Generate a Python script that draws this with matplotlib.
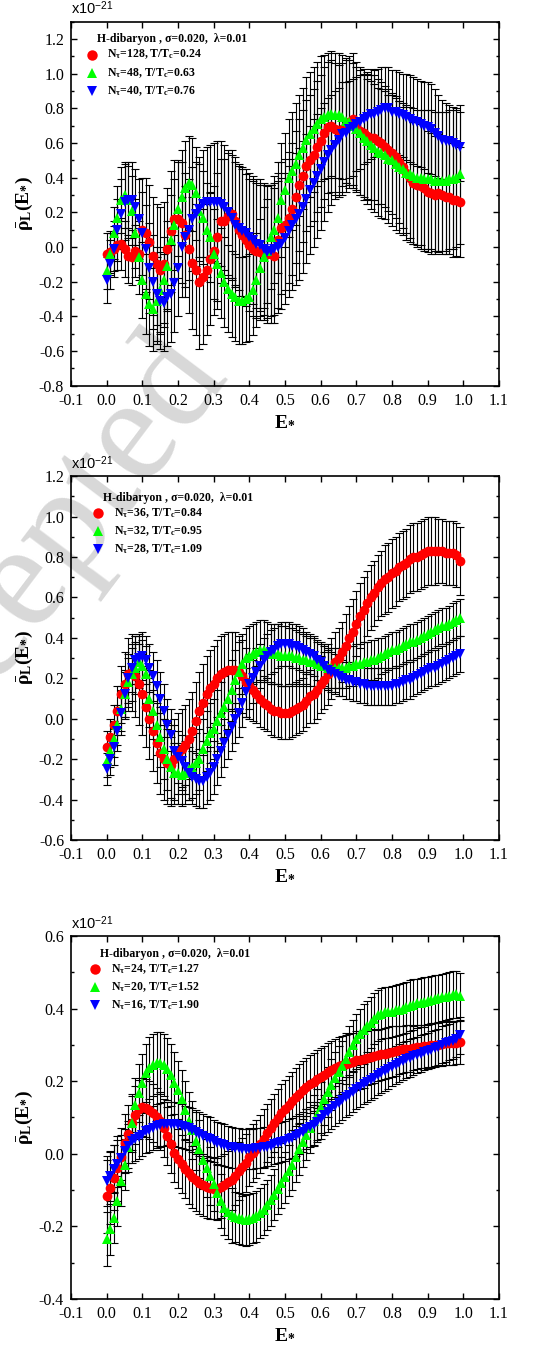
import numpy as np
import matplotlib
matplotlib.use("Agg")
import matplotlib.pyplot as plt
from matplotlib.ticker import MultipleLocator

plt.rcParams['font.family'] = ['Liberation Serif', 'DejaVu Serif']
plt.rcParams['mathtext.fontset'] = 'custom'
plt.rcParams['mathtext.rm'] = 'Liberation Serif:bold'
plt.rcParams['mathtext.it'] = 'Liberation Serif:italic:bold'
plt.rcParams['mathtext.bf'] = 'Liberation Serif:bold'
plt.rcParams['mathtext.sf'] = 'Liberation Sans'
plt.rcParams['axes.unicode_minus'] = False

# energy grid E* (same for every series)
E = np.round(np.linspace(0.0, 0.99, 100), 2)

# ---------------- panel 1 : Ntau = 128, 48, 40 ----------------
rho_128 = [-0.04, -0.03, -0.01, 0.01, 0.02, -0.01, -0.05, -0.06, -0.02, -0.04,
           0.10, 0.08, 0.03, -0.05, -0.10, -0.13, -0.10, -0.01, 0.09, 0.16,
           0.16, 0.14, 0.07, -0.01, -0.09, -0.13, -0.20, -0.17, -0.13, -0.07,
           -0.02, 0.06, 0.15, 0.15, 0.18, 0.19, 0.15, 0.10, 0.07, 0.04,
           0.01, -0.01, -0.02, -0.03, -0.03, -0.04, -0.04, -0.05, 0.04, 0.11,
           0.13, 0.17, 0.22, 0.29, 0.36, 0.41, 0.47, 0.50, 0.53, 0.58,
           0.61, 0.66, 0.69, 0.70, 0.68, 0.67, 0.68, 0.70, 0.72, 0.74,
           0.70, 0.67, 0.66, 0.64, 0.63, 0.63, 0.61, 0.60, 0.58, 0.56,
           0.54, 0.52, 0.49, 0.46, 0.43, 0.40, 0.37, 0.36, 0.35, 0.34,
           0.32, 0.31, 0.30, 0.31, 0.30, 0.29, 0.29, 0.27, 0.27, 0.26]
err_128 = [0.12, 0.12, 0.13, 0.14, 0.15, 0.16, 0.16, 0.16, 0.15, 0.15,
           0.30, 0.32, 0.33, 0.34, 0.35, 0.36, 0.36, 0.35, 0.35, 0.34,
           0.34, 0.35, 0.36, 0.37, 0.38, 0.38, 0.39, 0.39, 0.38, 0.38,
           0.37, 0.37, 0.36, 0.36, 0.36, 0.37, 0.37, 0.38, 0.38, 0.38,
           0.38, 0.39, 0.39, 0.39, 0.39, 0.40, 0.40, 0.39, 0.39, 0.38,
           0.38, 0.38, 0.38, 0.38, 0.38, 0.38, 0.38, 0.38, 0.38, 0.38,
           0.38, 0.38, 0.38, 0.38, 0.38, 0.38, 0.38, 0.38, 0.38, 0.38,
           0.37, 0.37, 0.37, 0.36, 0.36, 0.36, 0.36, 0.35, 0.35, 0.35,
           0.35, 0.35, 0.35, 0.35, 0.35, 0.35, 0.35, 0.36, 0.36, 0.36,
           0.35, 0.35, 0.34, 0.34, 0.34, 0.33, 0.33, 0.33, 0.32, 0.32]
rho_48 = [-0.14, -0.04, 0.08, 0.17, 0.27, 0.30, 0.27, 0.21, 0.08, -0.06,
          -0.19, -0.27, -0.33, -0.36, -0.31, -0.25, -0.19, -0.11, 0.04, 0.13,
          0.22, 0.29, 0.34, 0.37, 0.36, 0.31, 0.21, 0.17, 0.10, 0.06,
          -0.04, -0.10, -0.15, -0.20, -0.24, -0.27, -0.29, -0.31, -0.31, -0.30,
          -0.29, -0.25, -0.19, -0.12, -0.06, -0.02, 0.06, 0.10, 0.17, 0.27,
          0.33, 0.40, 0.44, 0.48, 0.53, 0.57, 0.62, 0.65, 0.68, 0.71,
          0.74, 0.75, 0.76, 0.77, 0.76, 0.76, 0.75, 0.73, 0.72, 0.70,
          0.68, 0.66, 0.63, 0.61, 0.59, 0.57, 0.55, 0.54, 0.53, 0.51,
          0.50, 0.48, 0.46, 0.45, 0.43, 0.42, 0.41, 0.40, 0.40, 0.39,
          0.39, 0.39, 0.38, 0.38, 0.38, 0.38, 0.39, 0.39, 0.40, 0.42]
err_48 = [0.10, 0.12, 0.15, 0.18, 0.19, 0.19, 0.20, 0.20, 0.20, 0.21,
          0.22, 0.23, 0.24, 0.24, 0.25, 0.25, 0.25, 0.26, 0.26, 0.26,
          0.27, 0.27, 0.27, 0.27, 0.27, 0.27, 0.27, 0.27, 0.27, 0.26,
          0.26, 0.26, 0.26, 0.26, 0.25, 0.25, 0.25, 0.25, 0.25, 0.25,
          0.25, 0.26, 0.27, 0.28, 0.29, 0.30, 0.30, 0.31, 0.32, 0.33,
          0.33, 0.34, 0.34, 0.35, 0.35, 0.35, 0.36, 0.36, 0.36, 0.36,
          0.36, 0.36, 0.36, 0.36, 0.36, 0.36, 0.36, 0.36, 0.36, 0.36,
          0.36, 0.36, 0.36, 0.36, 0.37, 0.37, 0.37, 0.37, 0.37, 0.37,
          0.38, 0.38, 0.38, 0.38, 0.39, 0.39, 0.39, 0.39, 0.39, 0.40,
          0.40, 0.40, 0.40, 0.40, 0.40, 0.40, 0.40, 0.40, 0.40, 0.40]
rho_40 = [-0.19, -0.10, -0.01, 0.10, 0.19, 0.26, 0.27, 0.27, 0.23, 0.16,
          0.08, -0.01, -0.12, -0.20, -0.27, -0.31, -0.32, -0.29, -0.27, -0.21,
          -0.12, 0.00, 0.06, 0.10, 0.16, 0.19, 0.22, 0.25, 0.26, 0.26,
          0.26, 0.26, 0.25, 0.23, 0.20, 0.17, 0.13, 0.11, 0.09, 0.08,
          0.06, 0.04, 0.02, 0.01, -0.01, -0.03, -0.02, -0.01, 0.00, 0.02,
          0.05, 0.09, 0.13, 0.16, 0.19, 0.23, 0.28, 0.33, 0.37, 0.41,
          0.45, 0.49, 0.53, 0.56, 0.59, 0.62, 0.65, 0.66, 0.68, 0.69,
          0.71, 0.72, 0.74, 0.75, 0.77, 0.77, 0.78, 0.79, 0.80, 0.80,
          0.78, 0.78, 0.77, 0.76, 0.75, 0.74, 0.73, 0.72, 0.71, 0.70,
          0.69, 0.68, 0.66, 0.64, 0.62, 0.61, 0.61, 0.60, 0.59, 0.58]
err_40 = [0.13, 0.14, 0.16, 0.18, 0.20, 0.22, 0.22, 0.22, 0.22, 0.23,
          0.24, 0.25, 0.26, 0.27, 0.27, 0.28, 0.28, 0.28, 0.28, 0.28,
          0.28, 0.29, 0.29, 0.29, 0.30, 0.30, 0.30, 0.31, 0.32, 0.33,
          0.34, 0.35, 0.36, 0.36, 0.36, 0.36, 0.36, 0.36, 0.37, 0.37,
          0.37, 0.37, 0.37, 0.38, 0.38, 0.38, 0.38, 0.38, 0.38, 0.38,
          0.38, 0.38, 0.38, 0.38, 0.38, 0.38, 0.37, 0.37, 0.37, 0.36,
          0.35, 0.34, 0.33, 0.32, 0.31, 0.30, 0.30, 0.29, 0.28, 0.28,
          0.27, 0.27, 0.26, 0.26, 0.26, 0.25, 0.25, 0.25, 0.24, 0.24,
          0.24, 0.24, 0.24, 0.24, 0.25, 0.25, 0.25, 0.25, 0.25, 0.25,
          0.26, 0.26, 0.25, 0.24, 0.23, 0.22, 0.21, 0.21, 0.20, 0.20]

# ---------------- panel 2 : Ntau = 36, 32, 28 ----------------
rho_36 = [-0.14, -0.09, -0.03, 0.04, 0.12, 0.17, 0.22, 0.23, 0.21, 0.17,
          0.12, 0.06, 0.00, -0.06, -0.12, -0.17, -0.20, -0.22, -0.23, -0.20,
          -0.17, -0.15, -0.13, -0.10, -0.06, -0.01, 0.04, 0.08, 0.12, 0.15,
          0.17, 0.20, 0.22, 0.23, 0.24, 0.24, 0.24, 0.23, 0.21, 0.18,
          0.16, 0.14, 0.12, 0.10, 0.08, 0.07, 0.05, 0.04, 0.04, 0.03,
          0.03, 0.03, 0.04, 0.05, 0.06, 0.07, 0.09, 0.11, 0.12, 0.14,
          0.17, 0.19, 0.22, 0.25, 0.28, 0.30, 0.33, 0.36, 0.40, 0.43,
          0.47, 0.51, 0.54, 0.57, 0.60, 0.62, 0.65, 0.67, 0.69, 0.70,
          0.72, 0.73, 0.75, 0.76, 0.77, 0.79, 0.80, 0.80, 0.81, 0.82,
          0.83, 0.83, 0.83, 0.83, 0.83, 0.82, 0.82, 0.82, 0.81, 0.78]
err_36 = [0.08, 0.09, 0.10, 0.12, 0.14, 0.16, 0.18, 0.19, 0.20, 0.20,
          0.20, 0.20, 0.20, 0.20, 0.20, 0.20, 0.20, 0.20, 0.20, 0.20,
          0.20, 0.20, 0.20, 0.20, 0.19, 0.19, 0.19, 0.19, 0.19, 0.19,
          0.19, 0.19, 0.19, 0.19, 0.19, 0.19, 0.19, 0.18, 0.18, 0.17,
          0.16, 0.15, 0.14, 0.14, 0.13, 0.13, 0.13, 0.13, 0.13, 0.13,
          0.13, 0.13, 0.13, 0.13, 0.13, 0.13, 0.13, 0.13, 0.14, 0.14,
          0.14, 0.14, 0.15, 0.15, 0.15, 0.15, 0.15, 0.16, 0.16, 0.16,
          0.16, 0.16, 0.16, 0.16, 0.16, 0.16, 0.16, 0.16, 0.17, 0.17,
          0.17, 0.17, 0.17, 0.17, 0.17, 0.17, 0.17, 0.17, 0.17, 0.17,
          0.17, 0.17, 0.17, 0.16, 0.16, 0.16, 0.16, 0.16, 0.16, 0.17]
rho_32 = [-0.21, -0.16, -0.10, -0.03, 0.05, 0.12, 0.18, 0.22, 0.25, 0.28,
          0.26, 0.22, 0.10, 0.04, -0.03, -0.09, -0.15, -0.20, -0.24, -0.27,
          -0.27, -0.28, -0.27, -0.25, -0.24, -0.22, -0.20, -0.15, -0.11, -0.07,
          -0.05, -0.01, 0.03, 0.06, 0.10, 0.14, 0.19, 0.23, 0.27, 0.30,
          0.31, 0.32, 0.33, 0.34, 0.34, 0.33, 0.32, 0.32, 0.32, 0.31,
          0.31, 0.31, 0.31, 0.30, 0.30, 0.29, 0.29, 0.28, 0.28, 0.27,
          0.26, 0.26, 0.25, 0.25, 0.25, 0.25, 0.25, 0.25, 0.26, 0.26,
          0.27, 0.27, 0.28, 0.28, 0.29, 0.29, 0.30, 0.31, 0.32, 0.33,
          0.34, 0.34, 0.35, 0.36, 0.37, 0.38, 0.38, 0.39, 0.40, 0.41,
          0.42, 0.43, 0.44, 0.45, 0.46, 0.46, 0.47, 0.48, 0.49, 0.50]
err_32 = [0.08, 0.08, 0.09, 0.10, 0.11, 0.12, 0.12, 0.13, 0.13, 0.13,
          0.13, 0.14, 0.14, 0.14, 0.15, 0.15, 0.15, 0.15, 0.15, 0.15,
          0.15, 0.15, 0.15, 0.15, 0.15, 0.15, 0.15, 0.15, 0.15, 0.15,
          0.15, 0.15, 0.15, 0.15, 0.15, 0.15, 0.15, 0.15, 0.15, 0.15,
          0.15, 0.15, 0.15, 0.15, 0.15, 0.15, 0.15, 0.15, 0.15, 0.15,
          0.15, 0.14, 0.14, 0.14, 0.13, 0.13, 0.12, 0.12, 0.12, 0.11,
          0.11, 0.11, 0.10, 0.10, 0.10, 0.10, 0.10, 0.10, 0.10, 0.10,
          0.10, 0.10, 0.10, 0.10, 0.10, 0.10, 0.10, 0.09, 0.09, 0.09,
          0.09, 0.09, 0.09, 0.09, 0.09, 0.09, 0.09, 0.09, 0.09, 0.09,
          0.09, 0.09, 0.09, 0.09, 0.09, 0.09, 0.09, 0.09, 0.09, 0.09]
rho_28 = [-0.25, -0.20, -0.14, -0.06, 0.03, 0.12, 0.20, 0.25, 0.29, 0.30,
          0.31, 0.29, 0.25, 0.21, 0.16, 0.10, 0.04, -0.03, -0.08, -0.16,
          -0.19, -0.21, -0.24, -0.27, -0.29, -0.30, -0.31, -0.31, -0.29, -0.27,
          -0.24, -0.20, -0.16, -0.12, -0.08, -0.04, 0.00, 0.03, 0.08, 0.13,
          0.17, 0.20, 0.23, 0.26, 0.29, 0.31, 0.33, 0.34, 0.36, 0.37,
          0.37, 0.37, 0.36, 0.36, 0.35, 0.34, 0.33, 0.32, 0.31, 0.29,
          0.28, 0.26, 0.24, 0.23, 0.22, 0.21, 0.20, 0.19, 0.19, 0.18,
          0.18, 0.17, 0.17, 0.16, 0.16, 0.16, 0.16, 0.16, 0.16, 0.16,
          0.16, 0.17, 0.17, 0.18, 0.19, 0.19, 0.20, 0.21, 0.22, 0.23,
          0.24, 0.25, 0.25, 0.26, 0.27, 0.28, 0.29, 0.30, 0.31, 0.32]
err_28 = [0.08, 0.08, 0.09, 0.10, 0.11, 0.11, 0.12, 0.12, 0.12, 0.12,
          0.12, 0.12, 0.12, 0.12, 0.13, 0.13, 0.13, 0.13, 0.13, 0.13,
          0.13, 0.13, 0.13, 0.13, 0.13, 0.13, 0.13, 0.13, 0.13, 0.13,
          0.13, 0.13, 0.13, 0.12, 0.12, 0.12, 0.12, 0.12, 0.12, 0.12,
          0.12, 0.12, 0.12, 0.11, 0.11, 0.11, 0.11, 0.11, 0.11, 0.11,
          0.11, 0.11, 0.11, 0.11, 0.11, 0.11, 0.10, 0.10, 0.10, 0.10,
          0.10, 0.10, 0.10, 0.10, 0.10, 0.10, 0.09, 0.09, 0.09, 0.09,
          0.09, 0.09, 0.09, 0.09, 0.09, 0.09, 0.09, 0.09, 0.09, 0.09,
          0.09, 0.09, 0.09, 0.09, 0.09, 0.09, 0.09, 0.09, 0.09, 0.09,
          0.09, 0.09, 0.09, 0.09, 0.09, 0.09, 0.09, 0.09, 0.09, 0.09]

# ---------------- panel 3 : Ntau = 24, 20, 16 ----------------
rho_24 = [-0.117, -0.094, -0.066, -0.040, -0.010, 0.030, 0.055, 0.085, 0.107, 0.122,
          0.128, 0.127, 0.121, 0.112, 0.102, 0.090, 0.070, 0.049, 0.026, 0.003,
          -0.013, -0.028, -0.042, -0.053, -0.063, -0.073, -0.080, -0.086, -0.091, -0.095,
          -0.096, -0.096, -0.092, -0.086, -0.078, -0.071, -0.060, -0.048, -0.036, -0.025,
          -0.010, 0.002, 0.014, 0.028, 0.042, 0.057, 0.071, 0.085, 0.099, 0.111,
          0.124, 0.135, 0.145, 0.157, 0.166, 0.175, 0.184, 0.191, 0.199, 0.206,
          0.212, 0.218, 0.225, 0.232, 0.237, 0.241, 0.244, 0.248, 0.250, 0.253,
          0.257, 0.259, 0.261, 0.264, 0.267, 0.269, 0.271, 0.274, 0.276, 0.279,
          0.281, 0.283, 0.286, 0.288, 0.289, 0.290, 0.292, 0.294, 0.295, 0.296,
          0.298, 0.299, 0.300, 0.301, 0.303, 0.304, 0.305, 0.305, 0.306, 0.307]
err_24 = [0.100, 0.100, 0.090, 0.090, 0.080, 0.080, 0.080, 0.080, 0.080, 0.080,
          0.080, 0.080, 0.080, 0.080, 0.080, 0.080, 0.080, 0.080, 0.080, 0.080,
          0.080, 0.080, 0.080, 0.085, 0.085, 0.085, 0.085, 0.085, 0.085, 0.085,
          0.085, 0.085, 0.085, 0.085, 0.085, 0.085, 0.080, 0.080, 0.080, 0.080,
          0.080, 0.080, 0.080, 0.080, 0.080, 0.080, 0.080, 0.080, 0.080, 0.080,
          0.080, 0.080, 0.080, 0.080, 0.080, 0.080, 0.080, 0.080, 0.080, 0.080,
          0.080, 0.080, 0.080, 0.080, 0.080, 0.080, 0.080, 0.080, 0.080, 0.080,
          0.080, 0.080, 0.080, 0.075, 0.075, 0.075, 0.070, 0.070, 0.070, 0.070,
          0.070, 0.070, 0.065, 0.065, 0.065, 0.065, 0.060, 0.060, 0.060, 0.060,
          0.060, 0.060, 0.060, 0.060, 0.060, 0.060, 0.060, 0.060, 0.060, 0.060]
rho_20 = [-0.234, -0.208, -0.176, -0.130, -0.075, -0.030, 0.020, 0.085, 0.135, 0.168,
          0.195, 0.223, 0.236, 0.245, 0.250, 0.251, 0.244, 0.233, 0.218, 0.195,
          0.176, 0.150, 0.120, 0.090, 0.065, 0.036, 0.012, -0.016, -0.038, -0.060,
          -0.083, -0.107, -0.130, -0.149, -0.160, -0.170, -0.174, -0.178, -0.181, -0.183,
          -0.181, -0.177, -0.172, -0.163, -0.154, -0.141, -0.128, -0.113, -0.096, -0.080,
          -0.065, -0.047, -0.030, -0.009, 0.012, 0.033, 0.053, 0.072, 0.091, 0.108,
          0.128, 0.150, 0.170, 0.190, 0.210, 0.226, 0.241, 0.262, 0.281, 0.299,
          0.315, 0.330, 0.342, 0.351, 0.361, 0.372, 0.381, 0.386, 0.390, 0.390,
          0.391, 0.395, 0.397, 0.400, 0.404, 0.408, 0.411, 0.414, 0.416, 0.418,
          0.421, 0.424, 0.426, 0.428, 0.431, 0.433, 0.436, 0.438, 0.439, 0.434]
err_20 = [0.075, 0.070, 0.070, 0.070, 0.070, 0.070, 0.070, 0.075, 0.075, 0.080,
          0.080, 0.080, 0.085, 0.085, 0.085, 0.085, 0.085, 0.085, 0.085, 0.085,
          0.080, 0.080, 0.080, 0.080, 0.080, 0.080, 0.080, 0.080, 0.080, 0.080,
          0.075, 0.075, 0.075, 0.075, 0.075, 0.075, 0.070, 0.070, 0.070, 0.070,
          0.070, 0.070, 0.070, 0.070, 0.070, 0.070, 0.070, 0.070, 0.070, 0.070,
          0.070, 0.070, 0.070, 0.070, 0.070, 0.070, 0.070, 0.070, 0.070, 0.070,
          0.070, 0.070, 0.070, 0.070, 0.070, 0.070, 0.070, 0.070, 0.070, 0.070,
          0.070, 0.070, 0.070, 0.070, 0.070, 0.070, 0.070, 0.070, 0.070, 0.070,
          0.070, 0.070, 0.070, 0.070, 0.070, 0.070, 0.070, 0.068, 0.068, 0.068,
          0.066, 0.066, 0.066, 0.065, 0.065, 0.065, 0.065, 0.065, 0.065, 0.065]
rho_16 = [-0.075, -0.061, -0.043, -0.027, -0.011, 0.007, 0.021, 0.035, 0.041, 0.047,
          0.053, 0.062, 0.066, 0.071, 0.076, 0.080, 0.082, 0.083, 0.083, 0.082,
          0.080, 0.076, 0.073, 0.070, 0.065, 0.060, 0.055, 0.049, 0.044, 0.040,
          0.035, 0.030, 0.027, 0.023, 0.020, 0.018, 0.016, 0.015, 0.014, 0.014,
          0.014, 0.014, 0.015, 0.016, 0.018, 0.020, 0.022, 0.026, 0.030, 0.032,
          0.036, 0.040, 0.044, 0.049, 0.054, 0.060, 0.067, 0.073, 0.080, 0.088,
          0.096, 0.106, 0.116, 0.124, 0.132, 0.140, 0.148, 0.156, 0.163, 0.170,
          0.179, 0.185, 0.191, 0.197, 0.203, 0.210, 0.216, 0.222, 0.228, 0.234,
          0.240, 0.244, 0.250, 0.255, 0.260, 0.264, 0.268, 0.272, 0.276, 0.280,
          0.284, 0.287, 0.291, 0.294, 0.301, 0.304, 0.308, 0.312, 0.317, 0.326]
err_16 = [0.070, 0.068, 0.066, 0.064, 0.062, 0.060, 0.060, 0.060, 0.060, 0.060,
          0.060, 0.060, 0.060, 0.060, 0.060, 0.060, 0.060, 0.060, 0.060, 0.060,
          0.060, 0.060, 0.060, 0.060, 0.060, 0.060, 0.060, 0.060, 0.060, 0.060,
          0.058, 0.058, 0.058, 0.058, 0.056, 0.056, 0.056, 0.056, 0.055, 0.055,
          0.055, 0.055, 0.055, 0.055, 0.055, 0.055, 0.055, 0.055, 0.055, 0.055,
          0.055, 0.055, 0.055, 0.055, 0.055, 0.055, 0.055, 0.055, 0.055, 0.055,
          0.055, 0.055, 0.055, 0.055, 0.055, 0.055, 0.055, 0.055, 0.055, 0.055,
          0.055, 0.055, 0.055, 0.055, 0.055, 0.055, 0.055, 0.055, 0.055, 0.055,
          0.052, 0.052, 0.052, 0.052, 0.052, 0.052, 0.050, 0.050, 0.050, 0.050,
          0.050, 0.050, 0.050, 0.050, 0.050, 0.050, 0.050, 0.050, 0.050, 0.050]

labels_1 = [r'N$_{\mathrm{\tau}}$=128, T/T$_{\mathrm{c}}$=0.24',
            r'N$_{\mathrm{\tau}}$=48, T/T$_{\mathrm{c}}$=0.63',
            r'N$_{\mathrm{\tau}}$=40, T/T$_{\mathrm{c}}$=0.76']
labels_2 = [r'N$_{\mathrm{\tau}}$=36, T/T$_{\mathrm{c}}$=0.84',
            r'N$_{\mathrm{\tau}}$=32, T/T$_{\mathrm{c}}$=0.95',
            r'N$_{\mathrm{\tau}}$=28, T/T$_{\mathrm{c}}$=1.09']
labels_3 = [r'N$_{\mathrm{\tau}}$=24, T/T$_{\mathrm{c}}$=1.27',
            r'N$_{\mathrm{\tau}}$=20, T/T$_{\mathrm{c}}$=1.52',
            r'N$_{\mathrm{\tau}}$=16, T/T$_{\mathrm{c}}$=1.90']
title_txt = 'H-dibaryon , σ=0.020,  λ=0.01'

colors = ['#ff0000', '#00ff00', '#0000ff']
markers = ['o', '^', 'v']


def draw_panel(ax, series, errs, labels, ylim, leg):
    # error bars first, symbols on top
    for y, e in zip(series, errs):
        ax.errorbar(E, y, yerr=e, fmt='none', ecolor='black',
                    elinewidth=0.8, capsize=2.6, capthick=0.8, zorder=2)
    for y, c, m in zip(series, colors, markers):
        ax.plot(E, y, linestyle='none', marker=m, color=c, markersize=7,
                markeredgewidth=0, zorder=3)

    ax.set_xlim(-0.1, 1.1)
    ax.set_ylim(*ylim)
    ax.xaxis.set_major_locator(MultipleLocator(0.1))
    ax.yaxis.set_major_locator(MultipleLocator(0.2))
    ax.yaxis.set_minor_locator(MultipleLocator(0.1))
    ax.xaxis.set_major_formatter(plt.FuncFormatter(lambda v, p: f'{v:.1f}'))
    ax.yaxis.set_major_formatter(plt.FuncFormatter(lambda v, p: f'{v:.1f}'))
    ax.tick_params(which='both', direction='in', top=True, right=True,
                   labelsize=11.5, width=1.0)
    ax.tick_params(which='major', length=4.5, pad=5)
    ax.tick_params(which='minor', length=2.5)
    for s in ax.spines.values():
        s.set_linewidth(1.2)
    ax.patch.set_alpha(0)

    ax.set_xlabel(r'$\mathrm{E_{*}}$', fontsize=14, labelpad=3)
    ax.set_ylabel(r'$\bar{\mathrm{\rho}}_{\mathrm{L}}\mathrm{(E_{*})}$',
                  fontsize=14, labelpad=3)

    # scale factor above the frame
    ax.text(0.0, 1.012, r'x10$^{\mathsf{-21}}$', transform=ax.transAxes,
            fontfamily='Liberation Sans', fontsize=10.5, ha='left', va='bottom')

    # legend block
    tx, ty, mx, lx, ys = leg
    ax.text(tx, ty, title_txt, transform=ax.transAxes, fontsize=8.5,
            fontweight='bold', ha='left', va='center')
    for yy, c, m, lab in zip(ys, colors, markers, labels):
        ax.plot([mx], [yy], transform=ax.transAxes, linestyle='none',
                marker=m, color=c, markersize=7.5, markeredgewidth=0,
                clip_on=False)
        ax.text(lx, yy, lab, transform=ax.transAxes, fontsize=8.5,
                fontweight='bold', ha='left', va='center')


fig = plt.figure(figsize=(5.51, 13.51), dpi=100)
ax1 = fig.add_axes([0.1289, 0.7145, 0.7768, 0.2694])
ax2 = fig.add_axes([0.1289, 0.3782, 0.7768, 0.2694])
ax3 = fig.add_axes([0.1289, 0.0385, 0.7768, 0.2687])

# "Accepted" stamp behind the curves
fig.text(0.055, 0.57, 'Accepted', fontsize=108, color='#d8d8d8',
         rotation=53, ha='center', va='center', zorder=-5,
         fontfamily='Liberation Serif')

draw_panel(ax1, [rho_128, rho_48, rho_40], [err_128, err_48, err_40],
           labels_1, (-0.8, 1.3),
           (0.060, 0.9525, 0.048, 0.085, [0.910, 0.860, 0.810]))
draw_panel(ax2, [rho_36, rho_32, rho_28], [err_36, err_32, err_28],
           labels_2, (-0.6, 1.2),
           (0.074, 0.939, 0.062, 0.100, [0.899, 0.850, 0.800]))
draw_panel(ax3, [rho_24, rho_20, rho_16], [err_24, err_20, err_16],
           labels_3, (-0.4, 0.6),
           (0.067, 0.950, 0.056, 0.093, [0.909, 0.860, 0.810]))

fig.savefig('out.png', dpi=100)
